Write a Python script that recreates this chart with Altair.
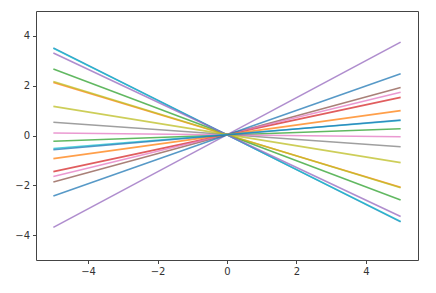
import altair as alt
import pandas as pd

# x positions of the two ends of every line
x_ends = [-5, 5]
# y values read at x = -5 (left) and x = 5 (right), in drawing order
y_left = [3.52, 2.13, 2.67, -1.45, -3.69, -1.87, -1.65, 0.53, 2.17, 3.50,
          -2.43, -0.93, -0.23, 3.31, 0.10, 1.17, -0.52, -0.57]
y_right = [-3.47, -2.08, -2.59, 1.53, 3.75, 1.93, 1.74, -0.45, -2.10, -3.45,
           2.48, 1.00, 0.27, -3.25, -0.05, -1.09, 0.60, 0.62]
line_colors = ["#1f77b4", "#ff7f0e", "#2ca02c", "#d62728", "#9467bd",
               "#8c564b", "#e377c2", "#7f7f7f", "#bcbd22", "#17becf",
               "#1f77b4", "#ff7f0e", "#2ca02c", "#9467bd", "#e377c2",
               "#bcbd22", "#17becf", "#1f77b4"]

rows = []
for i, (yl, yr, c) in enumerate(zip(y_left, y_right, line_colors)):
    rows.append({"line": i, "x": x_ends[0], "y": yl, "color": c})
    rows.append({"line": i, "x": x_ends[1], "y": yr, "color": c})
df = pd.DataFrame(rows)

chart = alt.Chart(df).mark_line(strokeWidth=1.6, opacity=0.75).encode(
    x=alt.X("x:Q", scale=alt.Scale(domain=[-5.5, 5.5], nice=False, zero=False),
            axis=alt.Axis(values=[-4, -2, 0, 2, 4], title=None)),
    y=alt.Y("y:Q", scale=alt.Scale(domain=[-5, 5], nice=False),
            axis=alt.Axis(values=[-4, -2, 0, 2, 4], title=None)),
    color=alt.Color("color:N", scale=None),
    detail="line:N",
    order=alt.Order("line:Q"),
).properties(
    width=382,
    height=249,
    autosize=alt.AutoSizeParams(type="none"),
    padding={"left": 36, "top": 11, "right": 18, "bottom": 33},
    background="white",
).configure_view(
    stroke="#444444", strokeWidth=1
).configure_axis(
    domain=False, grid=False, ticks=True, tickColor="#444444", tickSize=3.5,
    labelFont="DejaVu Sans", labelFontSize=10, labelColor="#333333",
    labelPadding=3
)

chart.save("out.html", embed_options={"renderer": "svg", "actions": False})
